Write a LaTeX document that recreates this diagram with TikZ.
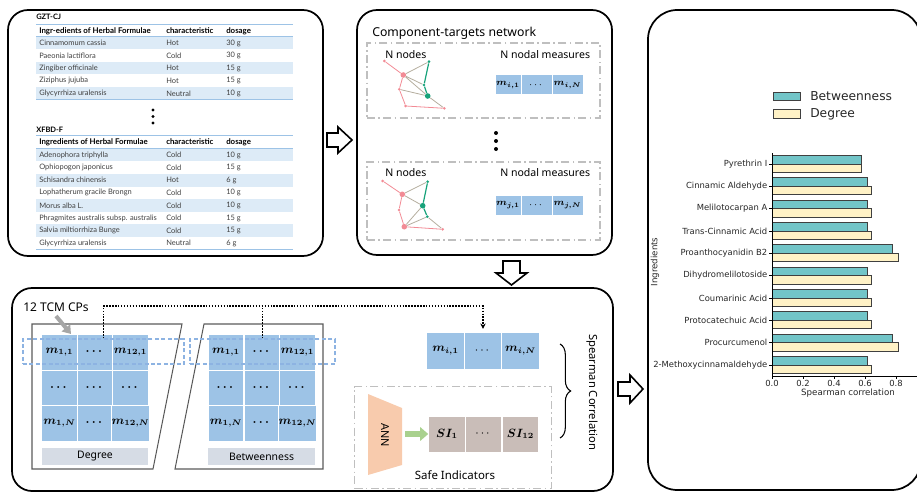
\documentclass[tikz,border=0pt]{standalone}
\usepackage{amsmath}
\usepackage{fontspec}
\setmainfont{Noto Sans}
\newfontfamily\tabfont{Lato}
\newfontfamily\chartfont{DejaVu Sans}
\usetikzlibrary{arrows.meta,decorations.pathreplacing,calc,fit}
\definecolor{cellblue}{HTML}{9DC3E6}
\definecolor{rowblue}{HTML}{DDEBF7}
\definecolor{lineblue}{HTML}{9DC3E6}
\definecolor{labelgray}{HTML}{D6DCE5}
\definecolor{sigray}{HTML}{C9BDB8}
\definecolor{annpeach}{HTML}{F8CBAD}
\definecolor{arrgreen}{HTML}{A9D18E}
\definecolor{ddgray}{HTML}{BFBFBF}
\definecolor{barteal}{HTML}{72C5C8}
\definecolor{baryellow}{HTML}{FFF2C6}
\definecolor{netpink}{HTML}{F28B95}
\definecolor{netgreen}{HTML}{17A27A}
\definecolor{netgray}{HTML}{B5AE9F}
\definecolor{tabtext}{HTML}{404040}
\definecolor{dashblue}{HTML}{8DB3E2}
\definecolor{framegray}{HTML}{5A5A5A}
\begin{document}
\begin{tikzpicture}[x=0.75pt,y=-0.75pt,
  panel/.style={draw=black,line width=1.3pt,rounded corners=15pt,inner sep=0pt},
  blockarrow/.style={draw=black,line width=1.2pt,fill=white,line join=miter},
  ddbox/.style={draw=ddgray,line width=0.9pt,dash pattern=on 6pt off 2.5pt on 1.2pt off 2.5pt},
  tabtitle/.style={anchor=west,inner sep=0pt,font=\tabfont\bfseries\fontsize{5.6}{6}\selectfont},
  tabhead/.style={anchor=west,inner sep=0pt,font=\tabfont\bfseries\fontsize{5.9}{6.5}\selectfont},
  tabcell/.style={anchor=west,inner sep=0pt,text=tabtext,font=\tabfont\fontsize{5.6}{6.5}\selectfont},
  bcell/.style={fill=cellblue,draw=white,line width=0.75pt,minimum width=26.6pt,minimum height=27pt,inner sep=0pt,font=\fontsize{9}{10}\selectfont},
  ncell/.style={fill=cellblue,draw=white,line width=0.75pt,minimum height=15pt,inner sep=0pt,font=\fontsize{7.5}{8}\selectfont},
  scell/.style={fill=sigray,draw=white,line width=0.75pt,minimum width=27.4pt,minimum height=27pt,inner sep=0pt,font=\fontsize{9}{10}\selectfont},
  lblbox/.style={fill=labelgray,minimum height=12.75pt,inner sep=0pt,font=\fontsize{7.8}{9}\selectfont},
  txt/.style={inner sep=0pt},
  pk/.style={circle,fill=netpink,inner sep=0pt,minimum size=2.2pt},
  pkb/.style={circle,fill=netpink,inner sep=0pt,minimum size=4.2pt},
  gn/.style={circle,fill=netgreen,inner sep=0pt,minimum size=2.2pt},
  gnb/.style={circle,fill=netgreen,inner sep=0pt,minimum size=4.2pt},
  pedge/.style={draw=netpink,line width=0.6pt},
  gedge/.style={draw=netgray,line width=0.6pt},
  nedge/.style={draw=netgreen,line width=0.9pt},
  dotconn/.style={draw=black,line width=1.3pt,dash pattern=on 1.1pt off 1.1pt},
  dashrect/.style={draw=dashblue,line width=0.8pt,dash pattern=on 3pt off 1.8pt,inner sep=0pt},
  frame/.style={draw=framegray,line width=0.8pt},
  barbox/.style={draw=black!75,line width=0.7pt},
  clabel/.style={inner sep=0pt,text=black!85,font=\chartfont\fontsize{6.3}{7}\selectfont},
  bigdot/.style={circle,fill=black,inner sep=0pt,minimum size=2.6pt}
]
\useasboundingbox (0,0) rectangle (917,492);

% ---------------- panels
\node[panel,fit={(8,10) (323,256)}] (p1) {};
\node[panel,fit={(357,10) (612,255)}] (p2) {};
\node[panel,fit={(12,288) (613,491)}] (p3) {};
\node[panel,rounded corners=22pt,fit={(648,10) (921,490)}] (p4) {};

% ---------------- block arrows
\draw[blockarrow] (327,133) -- (338,133) -- (338,127) -- (352,140) -- (338,153) -- (338,147) -- (327,147) -- cycle;
\draw[blockarrow] (503,261) -- (520,261) -- (520,273) -- (527,273) -- (511.5,285) -- (496,273) -- (503,273) -- cycle;
\draw[blockarrow] (618,382) -- (630,382) -- (630,375) -- (643,389) -- (630,403) -- (630,396) -- (618,396) -- cycle;

% ---------------- table 1
\node[tabtitle] (t1title) at (36,17) {GZT-CJ};
\draw[lineblue,line width=0.7pt] (36,24) -- (293,24);
\foreach \y in {43,68.2,93.4} \fill[rowblue] (36,\y-6.3) rectangle (293,\y+6.3);
\draw[lineblue,line width=1.1pt] (36,36.7) -- (293,36.7);
\draw[lineblue,line width=0.7pt] (36,99.7) -- (293,99.7);
\node[tabhead] (t1h1) at (39,31) {Ingr-edients of Herbal Formulae};
\node[tabhead] (t1h2) at (166,31) {characteristic};
\node[tabhead] (t1h3) at (226,31) {dosage};
\foreach \a/\b/\c [count=\i from 0] in {Cinnamomum cassia/Hot/30 g,Paeonia lactiflora/Cold/30 g,Zingiber officinale/Hot/15 g,Ziziphus jujuba/Hot/15 g,Glycyrrhiza uralensis/Neutral/10 g}{
  \node[tabcell] (t1a\i) at (39,43+12.6*\i) {\a};
  \node[tabcell] (t1b\i) at (166,43+12.6*\i) {\b};
  \node[tabcell] (t1c\i) at (226,43+12.6*\i) {\c};
}
\node[bigdot] (v1) at (153,110) {};
\node[bigdot] (v2) at (153,116.5) {};
\node[bigdot] (v3) at (153,123) {};

% ---------------- table 2
\node[tabtitle] (t2title) at (36,130) {XFBD-F};
\draw[lineblue,line width=0.7pt] (36,135.5) -- (293,135.5);
\foreach \y in {155,180.2,205.4,230.6} \fill[rowblue] (36,\y-6.3) rectangle (293,\y+6.3);
\draw[lineblue,line width=1.1pt] (36,148.7) -- (293,148.7);
\draw[lineblue,line width=0.7pt] (36,249.5) -- (293,249.5);
\node[tabhead] (t2h1) at (39,142) {Ingredients of Herbal Formulae};
\node[tabhead] (t2h2) at (166,142) {characteristic};
\node[tabhead] (t2h3) at (226,142) {dosage};
\foreach \a/\b/\c [count=\i from 0] in {Adenophora triphylla/Cold/10 g,Ophiopogon japonicus/Cold/15 g,Schisandra chinensis/Hot/6 g,Lophatherum gracile Brongn/Cold/10 g,Morus alba L./Cold/10 g,Phragmites australis subsp. australis/Cold/15 g,Salvia miltiorrhiza Bunge/Cold/15 g,Glycyrrhiza uralensis/Neutral/6 g}{
  \node[tabcell] (t2a\i) at (39,155+12.6*\i) {\a};
  \node[tabcell] (t2b\i) at (166,155+12.6*\i) {\b};
  \node[tabcell] (t2c\i) at (226,155+12.6*\i) {\c};
}

% ---------------- network panel
\node[txt,anchor=west,font=\fontsize{9.2}{11}\selectfont] (nettitle) at (372,33) {Component-targets network};
\node[ddbox,fit={(367,43) (600,118)},inner sep=0pt] (nb1) {};
\node[ddbox,fit={(367,162) (600,240)},inner sep=0pt] (nb2) {};
\node[txt,anchor=west,font=\fontsize{7.9}{9}\selectfont] (nn1) at (385,55) {N nodes};
\node[txt,anchor=west,font=\fontsize{7.9}{9}\selectfont] (nm1) at (500,55) {N nodal measures};
\node[txt,anchor=west,font=\fontsize{7.9}{9}\selectfont] (nn2) at (385,173) {N nodes};
\node[txt,anchor=west,font=\fontsize{7.9}{9}\selectfont] (nm2) at (500,173) {N nodal measures};
% cells
\node[ncell,minimum width=19.5pt] (ni1) at (508,85) {$\boldsymbol{m_{i,1}}$};
\node[ncell,minimum width=23.25pt] (ni2) at (536.5,85) {$\cdots$};
\node[ncell,minimum width=23.25pt] (ni3) at (567.5,85) {$\boldsymbol{m_{i,N}}$};
\node[ncell,minimum width=19.5pt] (nj1) at (508,205) {$\boldsymbol{m_{j,1}}$};
\node[ncell,minimum width=23.25pt] (nj2) at (536.5,205) {$\cdots$};
\node[ncell,minimum width=23.25pt] (nj3) at (567.5,205) {$\boldsymbol{m_{j,N}}$};
\node[bigdot,minimum size=3pt] (w1) at (496,133) {};
\node[bigdot,minimum size=3pt] (w2) at (496,141) {};
\node[bigdot,minimum size=3pt] (w3) at (496,149) {};
% graph 1
\node[pk] (aA) at (384.3,61) {};
\node[pkb] (aB) at (403.3,75) {};
\node[pk] (aC) at (399.3,89.3) {};
\node[pk] (aD) at (405.7,106) {};
\node[pk] (aE) at (444.3,108.3) {};
\node[gn] (aF) at (429,61.7) {};
\node[gn] (aG) at (424,85) {};
\node[gnb] (aH) at (427.7,96) {};
\draw[gedge] (aB) -- (aF) (aB) -- (aG) (aB) -- (aH) (aH) -- (aE) (aC) -- (aH);
\draw[pedge] (aA) -- (aB) -- (aC) -- (aD) -- (aE);
\draw[nedge] (aF) -- (aG) -- (aH);
% graph 2
\node[pk] (bA) at (382.7,181) {};
\node[pkb] (bB) at (402.3,194.3) {};
\node[pk] (bC) at (399,210) {};
\node[pkb] (bD) at (404.3,226.7) {};
\node[pk] (bE) at (442.7,229.3) {};
\node[gn] (bF) at (427.7,181.7) {};
\node[gnb] (bG) at (422.7,205.7) {};
\node[gn] (bH) at (427.3,216.7) {};
\draw[gedge] (bB) -- (bF) (bB) -- (bG) (bG) -- (bD) (bD) -- (bH) (bH) -- (bE);
\draw[pedge] (bA) -- (bB) -- (bC) -- (bD) -- (bE);
\draw[nedge] (bF) -- (bG) -- (bH);

% ---------------- bottom panel
\node[txt,anchor=west,font=\fontsize{9}{11}\selectfont] (tcm) at (23,307) {12 TCM CPs};
\draw[frame] (32,324) -- (182,324) -- (153,469) -- (32,469) -- cycle;
\draw[frame] (204,324) -- (323,324) -- (323,469) -- (175,469) -- cycle;
% Degree matrix
\node[bcell] (d11) at (59.5,352) {$\boldsymbol{m_{1,1}}$};
\node[bcell] (d12) at (95,352) {$\boldsymbol{\cdots}$};
\node[bcell] (d13) at (130.5,352) {$\boldsymbol{m_{12,1}}$};
\node[bcell] (d21) at (59.5,388) {$\boldsymbol{\cdots}$};
\node[bcell] (d22) at (95,388) {$\boldsymbol{\cdots}$};
\node[bcell] (d23) at (130.5,388) {$\boldsymbol{\cdots}$};
\node[bcell] (d31) at (59.5,423) {$\boldsymbol{m_{1,N}}$};
\node[bcell] (d32) at (95,423) {$\boldsymbol{\cdots}$};
\node[bcell] (d33) at (130.5,423) {$\boldsymbol{m_{12,N}}$};
\node[lblbox,minimum width=79.5pt] (dlab) at (95,456.5) {Degree};
% Betweenness matrix
\node[bcell] (b11) at (226,352) {$\boldsymbol{m_{1,1}}$};
\node[bcell] (b12) at (262,352) {$\boldsymbol{\cdots}$};
\node[bcell] (b13) at (297.5,352) {$\boldsymbol{m_{12,1}}$};
\node[bcell] (b21) at (226,388) {$\boldsymbol{\cdots}$};
\node[bcell] (b22) at (262,388) {$\boldsymbol{\cdots}$};
\node[bcell] (b23) at (297.5,388) {$\boldsymbol{\cdots}$};
\node[bcell] (b31) at (226,423) {$\boldsymbol{m_{1,N}}$};
\node[bcell] (b32) at (262,423) {$\boldsymbol{\cdots}$};
\node[bcell] (b33) at (297.5,423) {$\boldsymbol{m_{12,N}}$};
\node[lblbox,minimum width=80.25pt] (blab) at (261.5,456.5) {Betweenness};
% dashed selections
\node[dashrect,fit={(23,339) (184,364)}] (dr1) {};
\node[dashrect,fit={(190,339) (335,364)}] (dr2) {};
% gray pointer
\coordinate (ptrS) at (56,316);
\coordinate (ptrE) at (71,334);
\draw[line width=3pt,color=black!35,-{Triangle[length=6pt,width=8pt]}] (ptrS) -- (ptrE);
% target row
\node[bcell,minimum width=28pt,minimum height=27.75pt] (mi1) at (445.5,350.5) {$\boldsymbol{m_{i,1}}$};
\node[bcell,minimum width=28pt,minimum height=27.75pt] (mi2) at (483,350.5) {$\cdots$};
\node[bcell,minimum width=28pt,minimum height=27.75pt] (mi3) at (520.5,350.5) {$\boldsymbol{m_{i,N}}$};
% dotted connectors
\coordinate (topline) at (0,306);
\draw[dotconn,-{Stealth[length=4pt,width=4pt]},shorten >=2pt] (dr1.north) -- (dr1.north |- topline) -| (mi2.north);
\draw[dotconn] (dr2.north) -- (dr2.north |- topline);
% safe indicators
\node[ddbox,fit={(359,391) (547,484)}] (sibox) {};
\node[txt,font=\fontsize{8.6}{10}\selectfont] (silab) at (455,475) {Safe Indicators};
\draw[fill=annpeach,draw=none] (368,394) -- (402,408) -- (402,465) -- (368,475) -- cycle;
\node[txt,rotate=-90,font=\fontsize{8.2}{9}\selectfont] (ann) at (385,435) {ANN};
\node[scell] (si1) at (447,434) {$\boldsymbol{SI_{1}}$};
\node[scell] (si2) at (483.5,434) {$\cdots$};
\node[scell] (si3) at (520.5,434) {$\boldsymbol{SI_{12}}$};
\coordinate (annout) at (405,434);
\draw[arrgreen,line width=4.5pt,-{Triangle[length=6pt,width=10pt]}] (annout) -- (si1.west);
% brace
\draw[line width=0.8pt,decorate,decoration={brace,amplitude=8pt,aspect=0.5}] (560,344) -- (560,438);
\node[txt,rotate=-90,font=\fontsize{8.4}{10}\selectfont] (spear) at (592,392) {Spearman Correlation};

% ---------------- chart
\draw[barbox,fill=barteal] (773,92) rectangle (800,100.5);
\node[txt,anchor=west,text=black!85,font=\chartfont\fontsize{9.2}{11}\selectfont] (lg1) at (810,96) {Betweenness};
\draw[barbox,fill=baryellow] (773,109.5) rectangle (800,118);
\node[txt,anchor=west,text=black!85,font=\chartfont\fontsize{9.2}{11}\selectfont] (lg2) at (810,114) {Degree};
\foreach \lab/\bv/\dv [count=\k from 0] in {Pyrethrin I/0.58/0.58,Cinnamic Aldehyde/0.613/0.639,Melilotocarpan A/0.613/0.639,Trans-Cinnamic Acid/0.613/0.639,Proanthocyanidin B2/0.78/0.813,Dihydromelilotoside/0.613/0.639,Coumarinic Acid/0.613/0.639,Protocatechuic Acid/0.613/0.639,Procurcumenol/0.78/0.813,2-Methoxycinnamaldehyde/0.613/0.639}{
  \pgfmathsetmacro\yc{164+22.33*\k}
  \pgfmathsetmacro\xb{772+155*\bv}
  \pgfmathsetmacro\xd{772+155*\dv}
  \draw[barbox,fill=barteal] (772,\yc-8.6) rectangle (\xb,\yc);
  \draw[barbox,fill=baryellow] (772,\yc) rectangle (\xd,\yc+8.6);
  \draw[line width=0.6pt] (772,\yc) -- (769,\yc);
  \node[clabel,anchor=east] (cat\k) at (767.5,\yc) {\lab};
}
\draw[line width=0.7pt] (772,153) -- (772,376) -- (917,376);
\foreach \v [count=\k] in {0.0,0.2,0.4,0.6,0.8}{
  \draw[line width=0.6pt] (772+155*\v,376) -- (772+155*\v,379);
  \node[clabel] (xt\k) at (772+155*\v,383.5) {\v};
}
\node[clabel,font=\chartfont\fontsize{6.5}{7}\selectfont] (xlab) at (848,393.5) {Spearman correlation};
\node[clabel,rotate=90,font=\chartfont\fontsize{6.5}{7}\selectfont] (ylab) at (655,262) {Ingredients};
\end{tikzpicture}
\end{document}
